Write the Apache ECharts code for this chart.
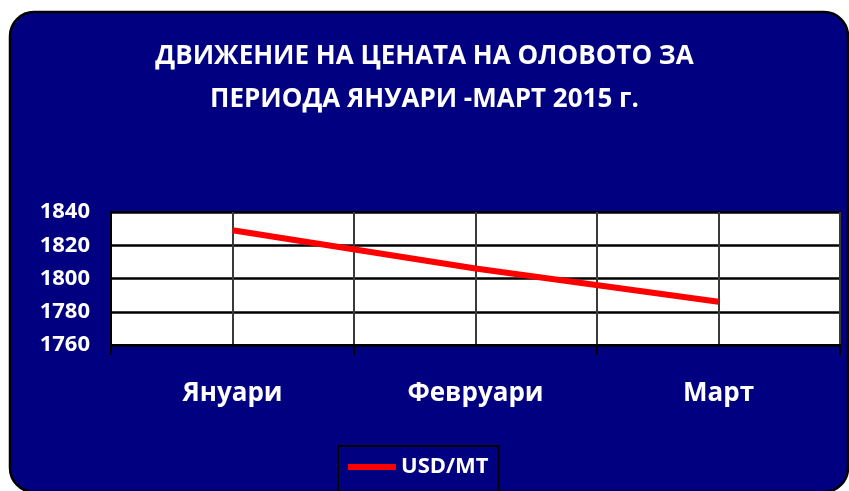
<!DOCTYPE html>
<html><head><meta charset="utf-8">
<script src="https://cdn.jsdelivr.net/npm/echarts@6/dist/echarts.min.js"></script>
<style>html,body{margin:0;padding:0;background:#fff;}#c{width:849px;height:491px;}</style>
</head><body><div id="c"></div>
<script>
const titleText = 'ДВИЖЕНИЕ НА ЦЕНАТА НА ОЛОВОТО ЗА\nПЕРИОДА ЯНУАРИ -МАРТ 2015 г.';
const categories = ['Януари', 'Февруари', 'Март'];
const seriesName = 'USD/MT';
const values = [1829, 1806, 1786];
const yMin = 1760, yMax = 1840, yStep = 20;

const FONT = '"Open Sans", sans-serif';
const chart = echarts.init(document.getElementById('c'), null, {renderer: 'canvas'});
chart.setOption({
  backgroundColor: '#ffffff',
  animation: false,
  graphic: [{
    type: 'rect', z: -10, silent: true,
    shape: {x: 10, y: 12, width: 838, height: 480, r: 24},
    style: {fill: '#000080', stroke: '#000000', lineWidth: 2.5}
  }],
  title: {
    text: titleText, left: 'center', top: 30,
    textStyle: {color: '#fff', fontFamily: FONT, fontWeight: 'bold', fontSize: 26, lineHeight: 43}
  },
  legend: {
    data: [{name: seriesName, icon: 'rect'}],
    left: 338, top: 446,
    padding: [10, 10, 14, 10],
    borderColor: '#000', borderWidth: 2,
    itemWidth: 48, itemHeight: 6, itemGap: 6,
    textStyle: {color: '#fff', fontFamily: FONT, fontWeight: 'bold', fontSize: 22}
  },
  grid: {
    left: 111, right: 9, top: 212, bottom: 146,
    show: true, backgroundColor: '#ffffff', borderColor: '#000', borderWidth: 2
  },
  xAxis: [{
    type: 'category', data: categories, boundaryGap: true,
    axisLine: {lineStyle: {color: '#000', width: 2}},
    axisTick: {show: true, length: 10, lineStyle: {color: '#000', width: 2}},
    splitLine: {show: false},
    axisLabel: {color: '#fff', fontFamily: FONT, fontWeight: 'bold', fontSize: 26, margin: 36}
  }, {
    type: 'value', min: 0, max: 6, interval: 1, position: 'bottom',
    axisLine: {show: false}, axisTick: {show: false}, axisLabel: {show: false},
    splitLine: {show: true, lineStyle: {color: '#3a3a3a', width: 2}}
  }],
  yAxis: {
    type: 'value', min: yMin, max: yMax, interval: yStep,
    axisLine: {show: true, lineStyle: {color: '#000', width: 2}},
    axisTick: {show: false},
    splitLine: {show: true, lineStyle: {color: '#000', width: 2.5}},
    axisLabel: {color: '#fff', fontFamily: FONT, fontWeight: 'bold', fontSize: 22, margin: 21,
      formatter: v => String(v)}
  },
  series: [{
    name: seriesName, type: 'line', data: values, xAxisIndex: 0,
    showSymbol: false, symbol: 'none',
    lineStyle: {color: '#ff0000', width: 6},
    itemStyle: {color: '#ff0000'}, z: 5
  }]
});
</script></body></html>
